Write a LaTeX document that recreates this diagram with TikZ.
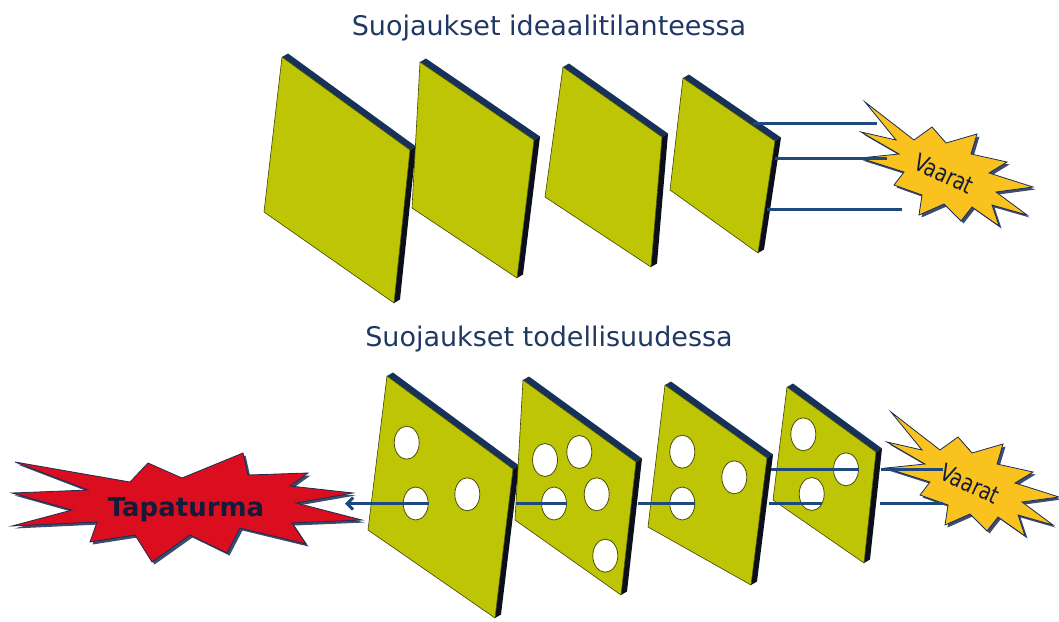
\documentclass[tikz,border=0pt]{standalone}
\usepackage{fontspec}
\setmainfont{DejaVu Sans}
\usetikzlibrary{calc,shapes.geometric,arrows.meta}
\definecolor{slabyel}{RGB}{190,197,5}
\definecolor{slabnavy}{RGB}{23,50,90}
\definecolor{slabdark}{RGB}{10,15,25}
\definecolor{hazline}{RGB}{31,73,125}
\definecolor{titlecol}{RGB}{31,56,100}
\definecolor{staryel}{RGB}{250,194,30}
\definecolor{starred}{RGB}{218,14,30}
\definecolor{starnavy}{RGB}{25,45,85}
\definecolor{textnavy}{RGB}{16,28,58}
\tikzset{
  slabface/.style={fill=slabyel, draw=black!65!slabyel, line width=0.6pt, line join=round},
  slabtop/.style={fill=slabnavy},
  slabside/.style={fill=slabdark},
  hole/.style={ellipse, fill=white, draw=black!60!slabyel, line width=0.8pt,
    minimum width=25pt, minimum height=33pt, inner sep=0pt},
  hazard/.style={draw=hazline, line width=3pt},
  titletext/.style={text=titlecol, font=\fontsize{27}{30}\selectfont, anchor=base, inner sep=0pt},
  starshadow/.style={fill=starnavy, opacity=0.85},
  starbody/.style={draw=starnavy, line width=0.8pt, line join=miter},
  vaaratext/.style={rotate=-25, text=textnavy, inner sep=0pt, font=\fontsize{24}{26}\selectfont},
}
% slab: #1 name, #2 TL, #3 TR, #4 BR, #5 BL
\newcommand{\slab}[5]{%
  \coordinate (#1-tl) at #2; \coordinate (#1-tr) at #3;
  \coordinate (#1-br) at #4; \coordinate (#1-bl) at #5;
  \fill[slabtop] (#1-tl) -- ($(#1-tl)+(6,-3.5)$) -- ($(#1-tr)+(6,-3.5)$) -- (#1-tr) -- cycle;
  \fill[slabside] (#1-tr) -- ($(#1-tr)+(6,-3.5)$) -- ($(#1-br)+(6,-3.5)$) -- (#1-br) -- cycle;
  \filldraw[slabface] (#1-tl) -- (#1-tr) -- (#1-br) -- (#1-bl) -- cycle;
}
\newcommand{\vaaratpath}{(-79,-68) -- (-30,-30) -- (-12,-43) -- (2,-27) -- (33,-36) -- (27,-16)
  -- (63,-8) -- (45,3) -- (89,17) -- (52,22) -- (83,45) -- (48,35) -- (55,56) -- (28,37)
  -- (17,51) -- (0,34) -- (-25,45) -- (-22,25) -- (-50,15) -- (-40,2) -- (-84,-12)
  -- (-45,-16) -- (-83,-38) -- (-48,-30) -- cycle}
\newcommand{\tapapath}{(15,462) -- (130,482) -- (148,463) -- (182,478) -- (243,453) -- (248,475)
  -- (308,473) -- (290,486) -- (353,493) -- (296,503) -- (362,520) -- (292,523) -- (306,544)
  -- (240,528) -- (227,553) -- (190,535) -- (152,562) -- (135,535) -- (90,542) -- (97,522)
  -- (12,526) -- (72,510) -- (12,493) -- (88,490) -- cycle}
\begin{document}
\begin{tikzpicture}[x=1pt,y=-1pt]
\useasboundingbox (0,0) rectangle (1059,621);

% titles
\node[titletext] (title1) at (549,35) {Suojaukset ideaalitilanteessa};
\node[titletext] (title2) at (549,346.7) {Suojaukset todellisuudessa};

% stars
\begin{scope}[shift={(944,170)}]
  \fill[starshadow] [shift={(2.5,2.5)}] \vaaratpath;
  \filldraw[starbody, fill=staryel] \vaaratpath;
  \coordinate (vaara1) at (0,0);
\end{scope}
\begin{scope}[shift={(970,480)}]
  \fill[starshadow] [shift={(2.5,2.5)}] \vaaratpath;
  \filldraw[starbody, fill=staryel] \vaaratpath;
  \coordinate (vaara2) at (0,0);
\end{scope}
\fill[starshadow] [shift={(2.5,2.5)}] \tapapath;
\filldraw[starbody, fill=starred] \tapapath;

% top slabs
\slab{p1}{(282,57)}{(410,150)}{(394,303)}{(264,212)}
\slab{p2}{(420,62)}{(534,140)}{(517,278)}{(412,208)}
\slab{p3}{(563,67)}{(662,137)}{(651,267)}{(545,197)}
\slab{p4}{(683,78)}{(775,141)}{(758,253)}{(670,190)}

% bottom slabs
\slab{b1}{(387,376)}{(513,469)}{(495,618)}{(368,530)}
\slab{b2}{(523,380)}{(636,462)}{(621,595)}{(515,520)}
\slab{b3}{(665,385)}{(767,458)}{(751,585)}{(648,527)}
\slab{b4}{(787,387)}{(876,452)}{(864,563)}{(773,500)}

% holes
\node[hole] (b1h1) at (406.7,442.7) {};
\node[hole] (b1h2) at (415.7,503.5) {};
\node[hole] (b1h3) at (467.3,494.3) {};
\node[hole] (b2h1) at (545,460) {};
\node[hole] (b2h2) at (579.3,452) {};
\node[hole] (b2h3) at (554,503.5) {};
\node[hole] (b2h4) at (596.7,494.3) {};
\node[hole] (b2h5) at (605.3,555.7) {};
\node[hole] (b3h1) at (682.3,451.7) {};
\node[hole] (b3h2) at (734.3,477.3) {};
\node[hole] (b3h3) at (682.3,503.5) {};
\node[hole] (b4h1) at (803.3,434.3) {};
\node[hole] (b4h2) at (846,469.3) {};
\node[hole] (b4h3) at (811.7,494) {};

% top hazard lines
\coordinate (t1a) at (753,123.3); \coordinate (t1b) at (877,123.3);
\coordinate (t2a) at (775,158.3); \coordinate (t2b) at (887,158.3);
\coordinate (t3a) at (767,209);   \coordinate (t3b) at (902,209);
\draw[hazard] (t1a) -- (t1b);
\draw[hazard] (t2a) -- (t2b);
\draw[hazard] (t3a) -- (t3b);

% bottom hazard lines
\coordinate (u1a) at (771,469.3);
\coordinate (u2a) at (881,469.3); \coordinate (u2b) at (943,469.3);
\coordinate (l1a) at (516,503.5);
\coordinate (l2a) at (638,503.5);
\coordinate (l3a) at (769,503.5); \coordinate (l3b) at (822,503.5);
\coordinate (l4a) at (880,503.5); \coordinate (l4b) at (943,503.5);
\coordinate (tapatip) at (345,503.5);
\draw[hazard] (u1a) -- (b4h2.east);
\draw[hazard] (u2a) -- (u2b);
\draw[hazard] (l4a) -- (l4b);
\draw[hazard] (l3a) -- (l3b);
\draw[hazard] (l2a) -- (b3h3.east);
\draw[hazard] (l1a) -- (b2h3.east);
\draw[hazard, -{Straight Barb[length=6pt,width=12pt]}] (b1h2.east) -- (tapatip);

% star labels
\node[vaaratext] (vtext1) at ($(vaara1)+(0,4)$) {\scalebox{0.8}[1]{Vaarat}};
\node[vaaratext] (vtext2) at ($(vaara2)+(0,4)$) {\scalebox{0.8}[1]{Vaarat}};
\node[anchor=base, inner sep=0pt, text=textnavy, font=\bfseries\fontsize{26}{30}\selectfont] (tapatext) at (186,516.7) {Tapaturma};
\end{tikzpicture}
\end{document}
